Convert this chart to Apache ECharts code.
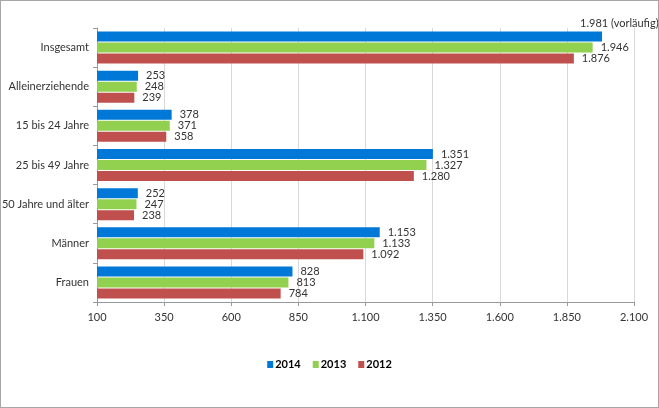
<!DOCTYPE html>
<html>
<head>
<meta charset="utf-8">
<script src="https://cdn.jsdelivr.net/npm/echarts@6/dist/echarts.min.js"></script>
<style>
html, body { margin: 0; padding: 0; background: #fff; }
#main { width: 659px; height: 408px; box-sizing: border-box; border: 1px solid #a6a6a6; }
</style>
</head>
<body>
<div id="main"></div>
<script>
// Kategorien und Werte (in Tausend)
var categories = ['Insgesamt', 'Alleinerziehende', '15 bis 24 Jahre', '25 bis 49 Jahre', '50 Jahre und älter', 'Männer', 'Frauen'];
var years = ['2014', '2013', '2012'];
var values2014 = [1981, 253, 378, 1351, 252, 1153, 828];
var values2013 = [1946, 248, 371, 1327, 247, 1133, 813];
var values2012 = [1876, 239, 358, 1280, 238, 1092, 784];
var xTicks = [100, 350, 600, 850, 1100, 1350, 1600, 1850, 2100];
var colors = ['#0078d7', '#92d050', '#c0504d'];

function fmt(v) {
    return String(v).replace(/\B(?=(\d{3})+(?!\d))/g, '.');
}

var font = 'Lato';

function makeSeries(name, vals, color, idx) {
    var data = vals.map(function (v, i) {
        var item = { value: v };
        // vorläufiger Wert über dem Balken
        if (idx === 0 && i === 0) {
            item.label = { formatter: fmt(v) + ' (vorläufig)', offset: [-30, -13] };
        }
        return item;
    });
    return {
        name: name,
        type: 'bar',
        data: data,
        barWidth: 10,
        barGap: '10%',
        itemStyle: { color: color },
        label: {
            show: true,
            position: 'right',
            distance: 8,
            color: '#333',
            fontSize: 11,
            fontFamily: font,
            formatter: function (p) { return fmt(p.value); }
        }
    };
}

var myChart = echarts.init(document.getElementById('main'));
var option = {
    animation: false,
    backgroundColor: '#fff',
    grid: { left: 96, right: 24, top: 27, bottom: 105, outerBoundsMode: 'none', containLabel: false },
    legend: {
        data: years,
        bottom: 32,
        left: 'center',
        icon: 'rect',
        itemWidth: 6,
        itemHeight: 7,
        itemGap: 12,
        textStyle: { color: '#000', fontSize: 11, fontWeight: 'bold', fontFamily: font, padding: [0, 0, 0, -3] }
    },
    xAxis: {
        type: 'value',
        min: xTicks[0],
        max: xTicks[xTicks.length - 1],
        interval: 250,
        axisLine: { show: true, lineStyle: { color: '#999' } },
        axisTick: { show: true, length: 4, lineStyle: { color: '#999' } },
        splitLine: { show: true, lineStyle: { color: '#d9d9d9' } },
        axisLabel: {
            color: '#333', fontSize: 11, fontFamily: font, margin: 10,
            formatter: function (v) { return fmt(v); }
        }
    },
    yAxis: {
        type: 'category',
        data: categories,
        inverse: true,
        axisLine: { show: true, lineStyle: { color: '#999' } },
        axisTick: { show: true, length: 4, lineStyle: { color: '#999' } },
        axisLabel: { color: '#333', fontSize: 11, fontFamily: font, margin: 8 }
    },
    series: [
        makeSeries(years[0], values2014, colors[0], 0),
        makeSeries(years[1], values2013, colors[1], 1),
        makeSeries(years[2], values2012, colors[2], 2)
    ]
};
myChart.setOption(option);
</script>
</body>
</html>
